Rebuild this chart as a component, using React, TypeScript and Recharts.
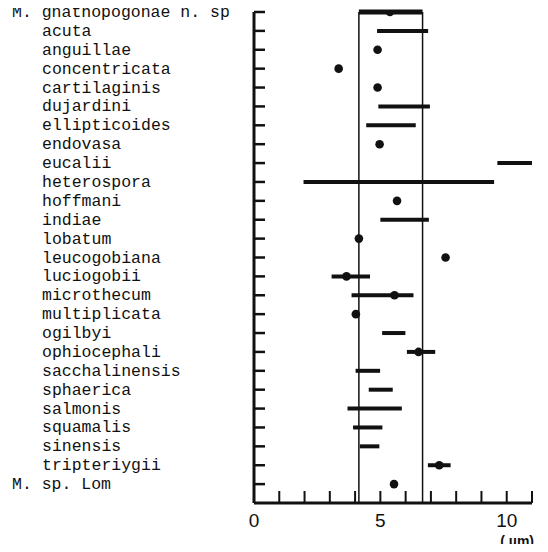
import { Label, ReferenceLine, Scatter, ScatterChart, XAxis, YAxis } from 'recharts';

// spore length ranges (min-max) and means, in µm, one row per species
const species = [
  'M. gnathopogonae n. sp',
  'acuta',
  'anguillae',
  'concentricata',
  'cartilaginis',
  'dujardini',
  'ellipticoides',
  'endovasa',
  'eucalii',
  'heterospora',
  'hoffmani',
  'indiae',
  'lobatum',
  'leucogobiana',
  'luciogobii',
  'microthecum',
  'multiplicata',
  'ogilbyi',
  'ophiocephali',
  'sacchalinensis',
  'sphaerica',
  'salmonis',
  'squamalis',
  'sinensis',
  'tripteriygii',
  'M. sp. Lom',
];

const rangeMin = [
  4.15, 4.87, null, null, null, 4.92, 4.44, null, 9.63, 1.96, null, 5.0, null, null, 3.07, 3.86,
  null, 5.07, 6.05, 4.02, 4.54, 3.7, 3.92, 4.19, 6.88, null,
];
const rangeMax = [
  6.67, 6.89, null, null, null, 6.96, 6.4, null, 11.0, 9.5, null, 6.92, null, null, 4.59, 6.31,
  null, 5.99, 7.17, 4.99, 5.49, 5.85, 5.08, 4.96, 7.78, null,
];
const meanSize = [
  5.38, null, 4.89, 3.35, 4.89, null, null, 4.97, null, null, 5.66, null, 4.15, 7.58, 3.66, 5.56,
  4.03, null, 6.51, null, null, null, null, null, 7.33, 5.54,
];

const xTicks = [0, 1, 2, 3, 4, 5, 6, 7, 8, 9, 10, 11];
const xLabels = [0, 5, 10];
const rowTicks = species.map((_, i) => i);

const INK = '#111';

const meanPoints = meanSize
  .map((v, i) => (v == null ? null : { x: v, y: i }))
  .filter((p): p is { x: number; y: number } => p !== null);

const ranges = rangeMin
  .map((lo, i) => (lo == null || rangeMax[i] == null ? null : { lo, hi: rangeMax[i] as number, row: i }))
  .filter((r): r is { lo: number; hi: number; row: number } => r !== null);

function SpeciesTick(props: any) {
  const { x, y, payload } = props;
  const name = species[payload.value];
  const genus = name.startsWith('M. ');
  return (
    <g>
      <line x1={x} x2={x + 11} y1={y} y2={y} stroke={INK} strokeWidth={2.5} />
      <text
        x={genus ? 12 : 42}
        y={y + 5}
        fontFamily="'Liberation Mono', monospace"
        fontSize={16.5}
        fill={INK}
      >
        {name}
      </text>
    </g>
  );
}

function SizeTick(props: any) {
  const { x, y, payload } = props;
  const v = payload.value as number;
  return (
    <g>
      {v > 0 && <line x1={x} x2={x} y1={y} y2={y - 12} stroke={INK} strokeWidth={2} />}
      {xLabels.includes(v) && (
        <text x={x} y={y + 24} textAnchor="middle" fontFamily="'Liberation Sans', Arial, sans-serif" fontSize={19} fill={INK}>
          {v}
        </text>
      )}
    </g>
  );
}

function UnitLabel(props: any) {
  const vb = props.viewBox;
  return (
    <text
      x={vb.x + vb.width + 2}
      y={vb.y + 43}
      textAnchor="end"
      fontFamily="'Liberation Sans', Arial, sans-serif"
      fontSize={14}
      fontWeight="bold"
      fill={INK}
    >
      ( µm)
    </text>
  );
}

export default function App() {
  return (
    <div style={{ margin: -8, width: 548, height: 552, background: '#fff' }}>
      <ScatterChart width={548} height={552} margin={{ top: 12, right: 16, bottom: 5, left: 0 }}>
        <XAxis
          type="number"
          dataKey="x"
          domain={[0, 11]}
          ticks={xTicks}
          interval={0}
          tickLine={false}
          tickSize={0}
          tickMargin={0}
          tick={<SizeTick />}
          axisLine={{ stroke: INK, strokeWidth: 3 }}
          height={44}
          allowDataOverflow
        >
          <Label content={<UnitLabel />} />
        </XAxis>
        <YAxis
          type="number"
          dataKey="y"
          domain={[0, 26]}
          ticks={rowTicks}
          interval={0}
          reversed
          width={254}
          tickLine={false}
          tickSize={0}
          tickMargin={0}
          tick={<SpeciesTick />}
          axisLine={{ stroke: INK, strokeWidth: 3 }}
          allowDataOverflow
        />
        <ReferenceLine x={rangeMin[0] as number} stroke={INK} strokeWidth={1.5} />
        <ReferenceLine x={rangeMax[0] as number} stroke={INK} strokeWidth={1.5} />
        {ranges.map((r) => (
          <ReferenceLine
            key={species[r.row]}
            segment={[
              { x: r.lo, y: r.row },
              { x: r.hi, y: r.row },
            ]}
            stroke={INK}
            strokeWidth={r.row === 0 ? 5 : 4}
            ifOverflow="visible"
          />
        ))}
        <Scatter
          data={meanPoints}
          isAnimationActive={false}
          shape={(p: any) => <circle cx={p.cx} cy={p.cy} r={4.3} fill={INK} />}
        />
      </ScatterChart>
    </div>
  );
}
